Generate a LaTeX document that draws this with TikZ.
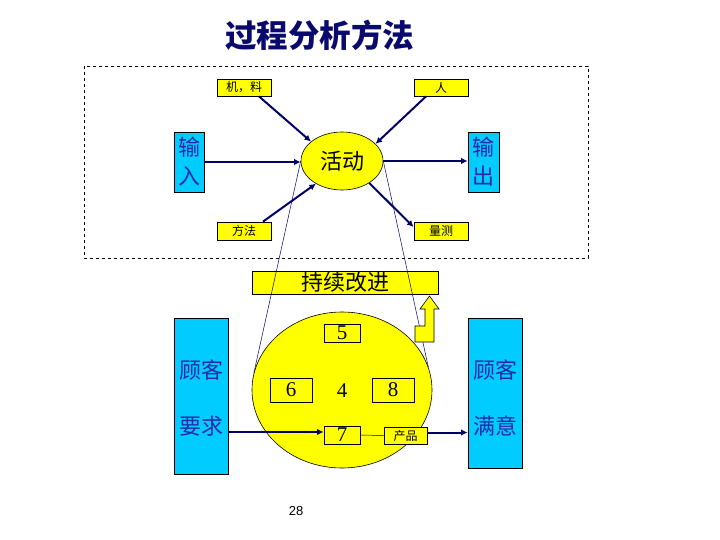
\documentclass[tikz,border=0pt]{standalone}
\usepackage{fontspec}
\setmainfont{Liberation Serif}
\newfontfamily\cjk{Noto Sans CJK SC}
\newfontfamily\sansf{Liberation Sans}
\usetikzlibrary{arrows.meta,shapes.geometric,calc}
\definecolor{navy}{RGB}{0,0,102}
\definecolor{titlecol}{RGB}{10,10,110}
\definecolor{cyanbox}{RGB}{0,204,255}
\definecolor{bluetext}{RGB}{40,40,170}
\definecolor{yel}{RGB}{255,255,0}
\tikzset{
  ybox/.style={draw=black, fill=yel, inner sep=0pt, line width=0.8pt},
  bbox/.style={draw=black, fill=cyanbox, inner sep=0pt, line width=0.8pt},
  small/.style={font=\cjk\fontsize{12}{12}\selectfont},
  mid/.style={font=\cjk\fontsize{22}{29}\selectfont},
  dig/.style={font=\fontsize{21}{21}\selectfont},
  arr/.style={draw=navy, line width=2pt, -{Latex[length=6.5pt,width=6.5pt]}},
  thinline/.style={draw=navy, line width=0.5pt},
}
\begin{document}
\begin{tikzpicture}[x=1pt,y=-1pt]
\useasboundingbox (0,0) rectangle (720,540);
% title
\node[font=\cjk\bfseries\fontsize{31.5}{31.5}\selectfont, text=titlecol] (title) at (319.5,35) {过程分析方法};
% dashed frame
\draw[dashed, line width=0.8pt] (84,66) rectangle (588,258);
% upper part
\node[ybox, small, minimum width=54pt, minimum height=17pt] (jl) at (244,87.5) {机，料};
\node[ybox, small, minimum width=54pt, minimum height=17pt] (ren) at (441,87.5) {人};
\node[ybox, small, minimum width=54pt, minimum height=18pt] (ff) at (244,231) {方法};
\node[ybox, small, minimum width=54pt, minimum height=18pt] (lc) at (441,231) {量测};
\node[bbox, mid, text=bluetext, align=center, minimum width=30pt, minimum height=60pt] (in) at (189,162) {输\\入};
\node[bbox, mid, text=bluetext, align=center, minimum width=31pt, minimum height=60pt] (out) at (483.5,162) {输\\出};
\node[ellipse, draw=black, fill=yel, inner sep=0pt, line width=0.6pt, minimum width=82pt, minimum height=58pt, mid] (act) at (342,161) {活动};
% arrows
\draw[arr] ([xshift=15pt]jl.south) -- (act.148);
\draw[arr] ([xshift=-15pt]ren.south) -- (act.27);
\draw[arr] ([xshift=19pt]ff.north) -- (act.221);
\draw[arr] (act.321) -- ([yshift=4pt]lc.west);
\draw[arr] (in.east) -- (in.east -| act.west);
\draw[arr] (act.east) -- (act.east -| out.west);
% lower part
\node[ybox, font=\cjk\fontsize{22}{22}\selectfont, minimum width=186pt, minimum height=23pt] (kp) at (345,282.5) {持续改进};
\node[ellipse, draw=black, fill=yel, inner sep=0pt, line width=0.6pt, minimum width=180pt, minimum height=156pt] (big) at (342,390) {};
\draw[thinline] (act.west) -- (big.169);
\draw[thinline] (act.east) -- (big.15);
\node[ybox, dig, minimum width=36pt, minimum height=18pt] (b5) at (342,333) {5};
\node[ybox, dig, minimum width=42pt, minimum height=24pt] (b6) at (291,390) {6};
\node[dig] (four) at (342,391) {4};
\node[ybox, dig, minimum width=42pt, minimum height=24pt] (b8) at (393,390) {8};
\node[ybox, dig, minimum width=36pt, minimum height=18pt] (b7) at (342,435) {7};
\node[ybox, small, minimum width=43pt, minimum height=17pt] (cp) at (405.5,435.5) {产品};
\draw[line width=0.5pt] (b7.east) -- (cp.west);
% block arrow
\draw[fill=yel, line width=0.6pt] (415,326) -- (425,326) -- (425,309) -- (420,309) -- (429.5,296) -- (439,309) -- (434,309) -- (434,342) -- (415,342) -- cycle;
% side boxes
\node[bbox, minimum width=54pt, minimum height=156pt] (L) at (201,396) {};
\node[mid, text=bluetext] (Lt1) at (201,370) {顾客};
\node[mid, text=bluetext] (Lt2) at (201,426) {要求};
\node[bbox, minimum width=54pt, minimum height=150pt] (R) at (495,393) {};
\node[mid, text=bluetext] (Rt1) at (495,370) {顾客};
\node[mid, text=bluetext] (Rt2) at (495,426) {满意};
\coordinate (r7) at ([yshift=3pt]b7.west);
\coordinate (rc) at ([yshift=3pt]cp.east);
\draw[arr] (r7 -| L.east) -- (r7);
\draw[arr] (rc) -- (rc -| R.west);
% page number
\node[font=\sansf\fontsize{13}{13}\selectfont] (pg) at (296,511) {28};
\end{tikzpicture}
\end{document}
